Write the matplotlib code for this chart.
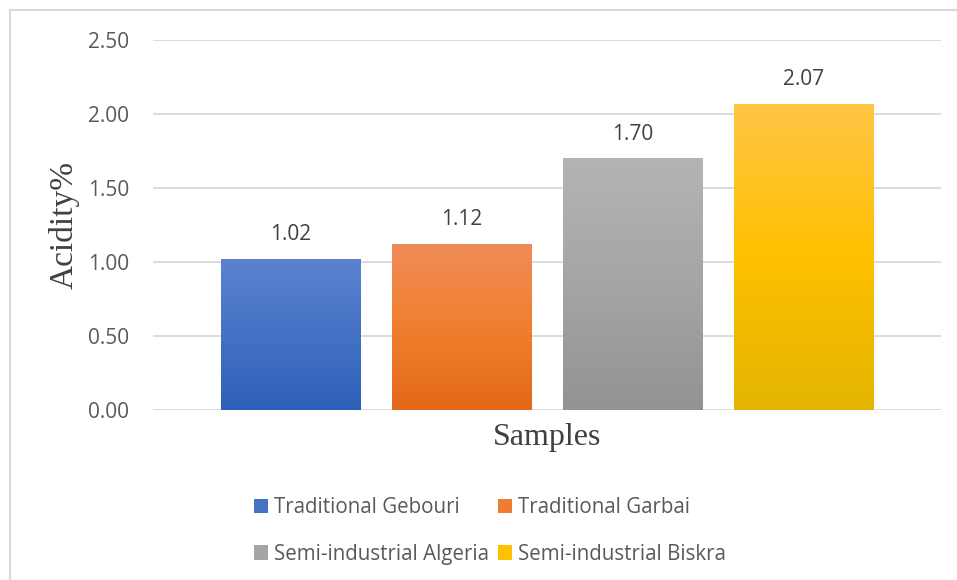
import numpy as np
import matplotlib
matplotlib.use("Agg")
import matplotlib.pyplot as plt
from matplotlib.patches import Patch, Rectangle
from matplotlib.colors import LinearSegmentedColormap

# Sample data
samples = ["Traditional Gebouri", "Traditional Garbai",
           "Semi-industrial Algeria", "Semi-industrial Biskra"]
acidity = [1.02, 1.12, 1.70, 2.07]
yticks = [0.0, 0.5, 1.0, 1.5, 2.0, 2.5]

# top / middle / bottom colours of each bar's vertical gradient
gradients = [
    ("#5B82CF", "#4472C4", "#2E5FB8"),
    ("#F08C58", "#F07F2E", "#E3681A"),
    ("#B4B4B4", "#A5A5A5", "#939393"),
    ("#FFC646", "#FFC000", "#E3B500"),
]
legend_colors = ["#4472C4", "#ED7D31", "#A5A5A5", "#FFC000"]

W, H = 957, 580
fig = plt.figure(figsize=(W / 100, H / 100), dpi=100)
fig.patch.set_facecolor("white")

# outer chart-area frame
fig.add_artist(Rectangle((10 / W, -0.05), 1.2, 1 - 10 / H + 0.05,
                         transform=fig.transFigure, fill=False,
                         edgecolor="#D9D9D9", linewidth=1.5))

ax = fig.add_axes([153 / W, 1 - 410 / H, (941 - 153) / W, (410 - 40) / H])
half = 394 / 171

x = np.arange(len(samples)) - (len(samples) - 1) / 2
bars = ax.bar(x, acidity, width=140 / 171, color="none", zorder=3)

for bar, (top, mid, bot), val in zip(bars, gradients, acidity):
    cmap = LinearSegmentedColormap.from_list("g", [bot, mid, top])
    x0, y0 = bar.get_x(), bar.get_y()
    w, h = bar.get_width(), bar.get_height()
    grad = np.linspace(0, 1, 256).reshape(-1, 1)
    im = ax.imshow(grad, cmap=cmap, origin="lower", aspect="auto",
                   extent=(x0, x0 + w, y0, y0 + h), zorder=3,
                   interpolation="bilinear")
    im.set_clip_path(bar)
    ax.annotate(f"{val:.2f}", (x0 + w / 2, y0 + h), xytext=(0, 10),
                textcoords="offset points", ha="center", va="bottom",
                fontsize=15, color="#404040", family="Open Sans")

ax.set_xlim(-half, half)
ax.set_ylim(0, 2.5)
ax.set_yticks(yticks)
ax.set_yticklabels([f"{t:.2f}" for t in yticks], fontsize=15,
                   color="#595959", family="Open Sans")
ax.tick_params(axis="y", length=0, pad=17)
ax.set_xticks([])
for s in ax.spines.values():
    s.set_visible(False)
ax.grid(axis="y", color="#D9D9D9", linewidth=1.3, zorder=0)
ax.set_axisbelow(True)

ax.set_ylabel("Acidity%", fontsize=24, family="Liberation Serif",
              color="#404040", labelpad=6)
ax.set_xlabel("Samples", fontsize=23, family="Liberation Serif",
              color="#404040", labelpad=9)

# legend reads row by row: Gebouri, Garbai / Algeria, Biskra
order = [0, 2, 1, 3]
handles = [Patch(facecolor=legend_colors[i], edgecolor="none") for i in order]
labels = [samples[i] for i in order]
fig.legend(handles, labels, loc="center", ncol=2,
           bbox_to_anchor=(490 / W, 1 - 531 / H), frameon=False,
           prop={"family": "Open Sans", "size": 14.8},
           labelcolor="#595959", handlelength=0.7, handleheight=0.7,
           handletextpad=0.3, columnspacing=0.4, labelspacing=1.25)

fig.savefig("out.png", dpi=100, facecolor="white")
